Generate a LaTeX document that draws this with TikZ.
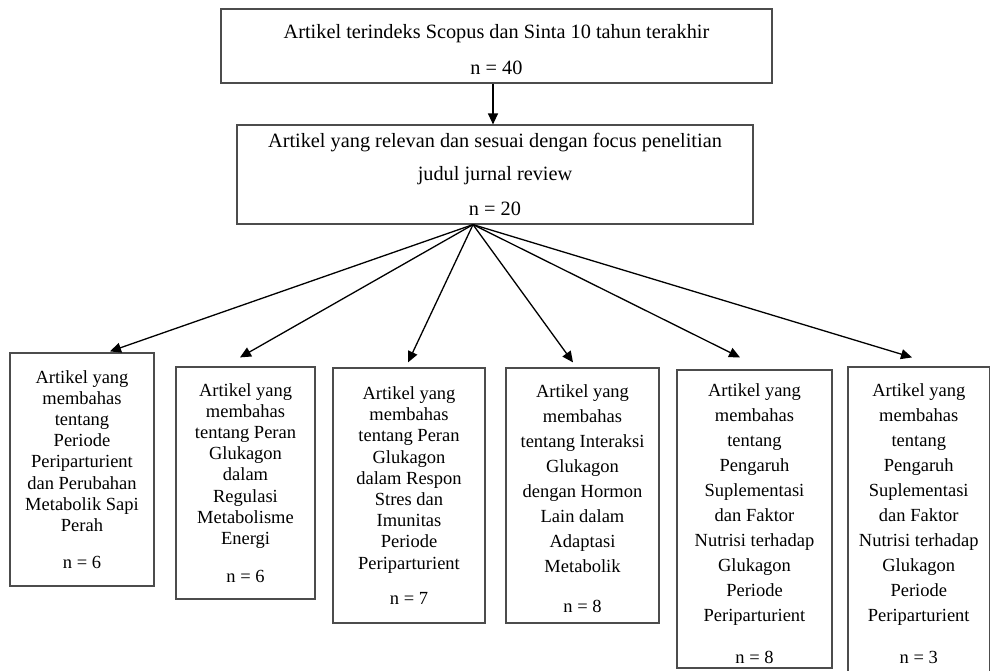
\documentclass[tikz,border=0pt]{standalone}
\usepackage{fontspec}
\setmainfont{Liberation Serif}
\usetikzlibrary{arrows.meta}
\begin{document}
\begin{tikzpicture}[x=1pt,y=-1pt,
  bx/.style={draw=black!70, line width=1.2pt, align=center, inner sep=0pt},
  topfont/.style={font=\fontsize{20.3}{23}\selectfont},
  tight/.style={font=\fontsize{18.5}{21.2}\selectfont},
  loose/.style={font=\fontsize{18.5}{25}\selectfont},
  arr/.style={draw=black, line width=1.3pt, -{Triangle[length=11pt,width=10pt]}}]
\useasboundingbox (0,0) rectangle (990,670);
\node[bx, topfont, minimum width=551pt, minimum height=74pt] (b0) at (496.5,46)
  {\rule{0pt}{22pt}Artikel terindeks Scopus dan Sinta 10 tahun terakhir\\[13pt] n = 40};
\node[bx, font=\fontsize{20.3}{33.5}\selectfont, minimum width=516pt, minimum height=99pt] (b1) at (495,174.5)
  {Artikel yang relevan dan sesuai dengan focus penelitian\\ judul jurnal review\\[1.5pt] n = 20};
\node[bx, tight, minimum width=144pt, minimum height=233pt] (c1) at (82,469.5)
  {Artikel yang\\ membahas\\ tentang\\ Periode\\ Periparturient\\ dan Perubahan\\ Metabolik Sapi\\ Perah\\[16pt] n = 6};
\node[bx, tight, minimum width=139pt, minimum height=232pt] (c2) at (245.5,483)
  {Artikel yang\\ membahas\\ tentang Peran\\ Glukagon\\ dalam\\ Regulasi\\ Metabolisme\\ Energi\\[17pt] n = 6};
\node[bx, tight, minimum width=152pt, minimum height=255pt] (c3) at (409,495.5)
  {Artikel yang\\ membahas\\ tentang Peran\\ Glukagon\\ dalam Respon\\ Stres dan\\ Imunitas\\ Periode\\ Periparturient\\[14pt] n = 7};
\node[bx, loose, minimum width=153pt, minimum height=255pt] (c4) at (582.5,495.5)
  {\rule{0pt}{19pt}Artikel yang\\ membahas\\ tentang Interaksi\\ Glukagon\\ dengan Hormon\\ Lain dalam\\ Adaptasi\\ Metabolik\\[15pt] n = 8};
\node[bx, loose, minimum width=155pt, minimum height=298pt] (c5) at (754.5,519)
  {\rule{0pt}{23pt}Artikel yang\\ membahas\\ tentang\\ Pengaruh\\ Suplementasi\\ dan Faktor\\ Nutrisi terhadap\\ Glukagon\\ Periode\\ Periparturient\\[17pt] n = 8};
\node[bx, loose, minimum width=141.5pt, minimum height=313pt] (c6) at (918.75,523.5)
  {Artikel yang\\ membahas\\ tentang\\ Pengaruh\\ Suplementasi\\ dan Faktor\\ Nutrisi terhadap\\ Glukagon\\ Periode\\ Periparturient\\[17pt] n = 3};
\coordinate (src) at ([xshift=-22pt]b1.south);
\draw[arr] ([xshift=-3.5pt]b0.south) -- ([xshift=-2pt]b1.north);
\draw[arr] (src) -- ([xshift=28pt,yshift=1pt]c1.north);
\draw[arr] (src) -- ([xshift=-5.5pt,yshift=9pt]c2.north);
\draw[arr] (src) -- ([xshift=-1pt,yshift=5pt]c3.north);
\draw[arr] (src) -- ([xshift=-9.5pt,yshift=5pt]c4.north);
\draw[arr] (src) -- ([xshift=-14.5pt,yshift=12pt]c5.north);
\draw[arr] (src) -- ([xshift=-6.75pt,yshift=9pt]c6.north);
\end{tikzpicture}
\end{document}
